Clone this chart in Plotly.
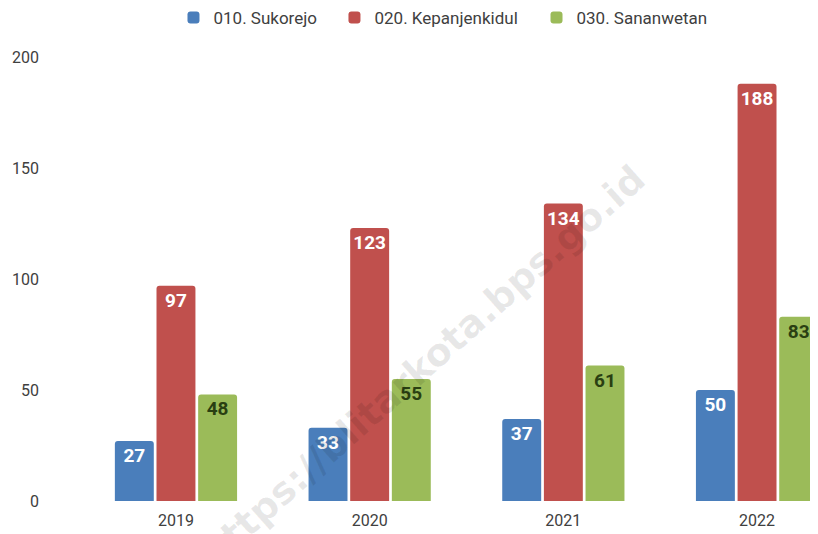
import plotly.graph_objects as go

years = ["2019", "2020", "2021", "2022"]
series_names = ["010. Sukorejo", "020. Kepanjenkidul", "030. Sananwetan"]
sukorejo = [27, 33, 37, 50]
kepanjenkidul = [97, 123, 134, 188]
sananwetan = [48, 55, 61, 83]
y_ticks = [0, 50, 100, 150, 200]

colors = ["#4A7EBB", "#C0504D", "#9BBB59"]
text_colors = ["#FFFFFF", "#FFFFFF", "#2A3F12"]
values = [sukorejo, kepanjenkidul, sananwetan]
legend_ids = ["legend", "legend2", "legend3"]
legend_x = [0.2023, 0.3991, 0.6461]

fig = go.Figure()
for name, vals, c, tc, lg in zip(series_names, values, colors, text_colors, legend_ids):
    fig.add_trace(go.Bar(
        x=years, y=vals, name=name, legend=lg, showlegend=True,
        marker=dict(color=c, line=dict(width=0)),
        text=[str(v) for v in vals],
        textposition="inside", insidetextanchor="end",
        textfont=dict(family="Roboto", size=19, color=tc, weight="bold"),
        constraintext="none",
    ))

legend_font = dict(family="Roboto", size=17, color="#404040")
legend_common = dict(orientation="h", xref="container", yref="container",
                     xanchor="left", y=0.9813, yanchor="middle",
                     font=legend_font, bgcolor="rgba(0,0,0,0)")

fig.update_layout(
    width=818, height=534,
    margin=dict(l=32, r=0, t=38, b=41, autoexpand=False),
    paper_bgcolor="white", plot_bgcolor="white",
    showlegend=True,
    barmode="group", bargap=0.355, bargroupgap=0.065,
    barcornerradius=3,
    font=dict(family="Roboto", size=16, color="#404040"),
    legend=dict(x=legend_x[0], **legend_common),
    legend2=dict(x=legend_x[1], **legend_common),
    legend3=dict(x=legend_x[2], **legend_common),
    xaxis=dict(range=[-0.702, 3.356], showgrid=False, zeroline=False, showline=False,
               ticks="", ticklabelstandoff=8,
               tickfont=dict(family="Roboto", size=16, color="#404040")),
    yaxis=dict(range=[0, 205], tickvals=y_ticks, showgrid=False, zeroline=False,
               showline=False, ticks="", tickfont=dict(family="Roboto", size=16, color="#404040")),
    annotations=[dict(
        text="https://blitarkota.bps.go.id", xref="paper", yref="paper",
        x=0.487, y=0.296, xanchor="center", yanchor="middle",
        showarrow=False, textangle=-41.7,
        font=dict(family="DejaVu Sans", size=38, color="rgba(0,0,0,0.09)", weight="bold"),
    )],
)

fig.write_html("out.html")
